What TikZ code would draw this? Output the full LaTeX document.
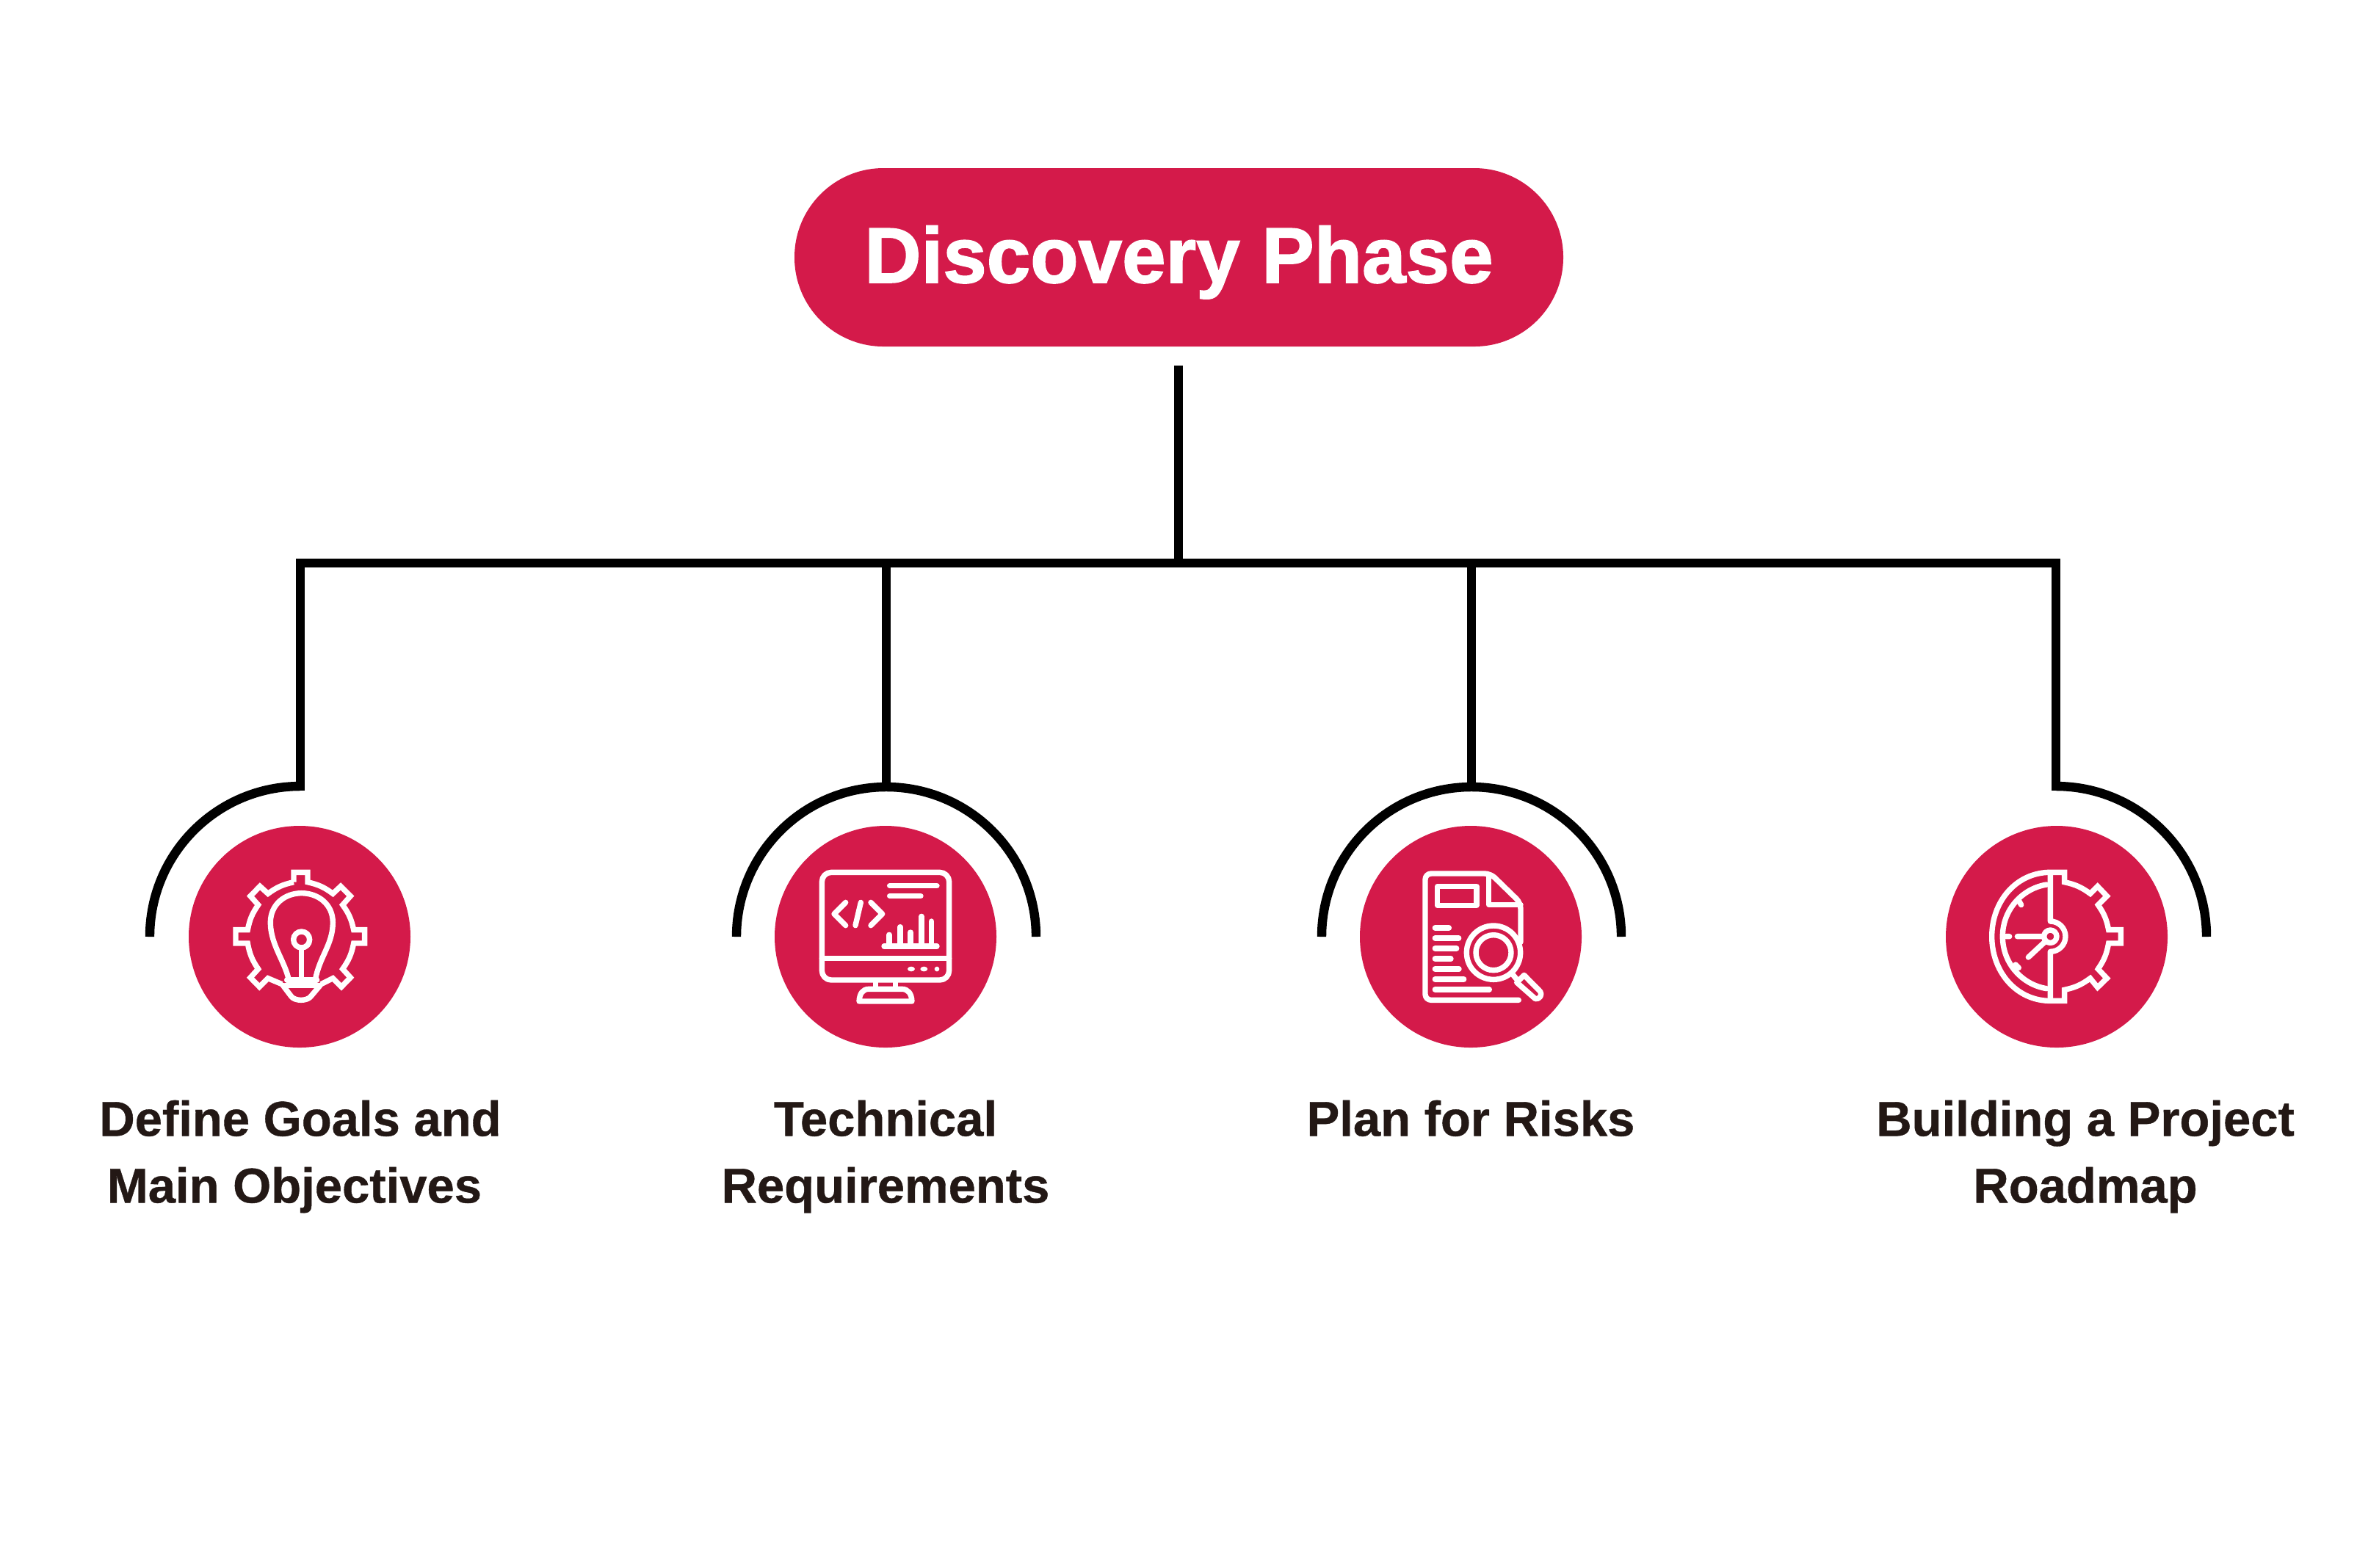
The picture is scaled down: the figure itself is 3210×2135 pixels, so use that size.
\documentclass[tikz,border=0pt]{standalone}
\usepackage{fontspec}
\newfontfamily\titlefont[FakeBold=1.6]{Liberation Sans Bold}
\newfontfamily\labfont[FakeBold=0.6]{Liberation Sans Bold}
\definecolor{brand}{HTML}{D41A4A}
\definecolor{inkdark}{HTML}{231815}
\tikzset{
  conn/.style={line width=2.9pt,black},
  arcline/.style={line width=3.1pt,black},
  disc/.style={circle,fill=brand,minimum size=75.5pt,inner sep=0pt},
  lab/.style={anchor=north,inner sep=0pt,align=center,text=inkdark,font=\labfont\fontsize{16.75}{22.75}\selectfont},
  ic/.style={line width=1.85pt,white,line join=round,line cap=round},
  icf/.style={line width=1.85pt,white,line join=miter,line cap=butt}
}
\begin{document}
\begin{tikzpicture}[x=0.25pt,y=-0.25pt]
\useasboundingbox (0,0) rectangle (3210,2135);
\fill[white] (0,0) rectangle (3210,2135);
% title
\node[fill=brand,rounded corners=30.3pt,minimum width=261.75pt,minimum height=60.75pt,inner sep=0pt,text=white,text height=20pt,text depth=2.8pt,font=\titlefont\fontsize{26.75}{30}\selectfont] (title) at (1605.5,350.5) {Discovery Phase};
% discs
\node[disc] (c1) at (408,1276) {};
\node[disc] (c2) at (1206,1276) {};
\node[disc] (c3) at (2003,1276) {};
\node[disc] (c4) at (2801,1276) {};
% connectors
\coordinate (stem) at (1605,498);
\coordinate (hub) at (1605,767);
\coordinate (t1) at (409,1076.5);
\coordinate (t2) at (1207,1072);
\coordinate (t3) at (2004,1072);
\coordinate (t4) at (2800,1076.5);
\draw[conn] (stem) -- (hub);
\draw[conn] (t1) -- (t1 |- hub) -- (t4 |- hub) -- (t4);
\draw[conn] (t2 |- hub) -- (t2);
\draw[conn] (t3 |- hub) -- (t3);
% arcs
\draw[arcline] (204,1276) arc[start angle=180,end angle=270,radius=205];
\draw[arcline] (1003,1276) arc[start angle=180,end angle=360,radius=204];
\draw[arcline] (1800,1276) arc[start angle=180,end angle=360,radius=204];
\draw[arcline] (2800,1071) arc[start angle=270,end angle=360,radius=205];
% labels
\node[lab] (l1) at (409,1498) {Define Goals and\\Main Objectives\kern4pt};
\node[lab] (l2) at (1206,1498) {Technical\\Requirements};
\node[lab] (l3) at (2003,1498) {Plan for Risks};
\node[lab] (l4) at (2840,1498) {Building a Project\\Roadmap};
% icon 1
\begin{scope}[shift={(240,1110)},x=0.08333pt,y=-0.08333pt]
\draw[icf] (480,275)--(480,235)--(537,235)--(537,275) to[bend left=12] (640,322)--(672,292)--(712,332)--(680,368) to[bend left=12] (725,470)--(770,470)--(770,525)--(725,525) to[bend left=12] (680,630)--(712,665)--(675,703)--(640,668)--(592,692);
\draw[icf] (432,692)--(375,668)--(340,703)--(303,665)--(335,630) to[bend left=12] (292,525)--(243,525)--(243,470)--(292,470) to[bend left=12] (335,368)--(303,332)--(342,292)--(375,322) to[bend left=12] (480,275);
\draw[ic] (460,675) .. controls (445,600) and (385,530) .. (385,440) .. controls (385,365) and (445,320) .. (512,320) .. controls (580,320) and (640,365) .. (640,440) .. controls (640,530) and (585,580) .. (568,675);
\draw[ic] (452,675)--(575,675);
\draw[ic] (445,697)--(582,697);
\draw[ic] (512,545)--(512,675);
\draw[ic] (512,510) circle[radius=33];
\draw[ic] (436,697)--(470,742) .. controls (485,762) and (535,762) .. (550,742)--(588,697);
\end{scope}
% icon 2
\begin{scope}[shift={(1040,1110)},x=0.08333pt,y=-0.08333pt]
\draw[ic,rounded corners=3.2pt] (238,235) rectangle (758,675);
\draw[ic] (238,587)--(758,587);
\draw[ic] (458,680)--(458,710) (538,680)--(538,710);
\draw[ic] (390,762) .. controls (392,730) and (405,712) .. (430,712) -- (565,712) .. controls (590,712) and (604,730) .. (606,762) -- cycle;
\draw[ic] (515,290)--(708,290) (515,332)--(642,332);
\draw[ic] (335,358)--(288,405)--(335,452) (397,358)--(375,452) (438,358)--(485,405)--(438,452);
\draw[ic] (492,537)--(708,537) (513,537)--(513,490) (558,537)--(558,458) (600,537)--(600,480) (645,537)--(645,415) (686,537)--(686,435);
\fill[white] (603,630) ellipse[x radius=15,y radius=10] (655,630) ellipse[x radius=15,y radius=10] (708,630) ellipse[x radius=10,y radius=10];
\end{scope}
% icon 3
\begin{scope}[shift={(1835,1110)},x=0.08333pt,y=-0.08333pt]
\draw[ic,rounded corners=2pt] (708,520)--(708,360)--(585,240)--(318,240)--(318,757)--(700,757);
\draw[ic] (578,245)--(578,367)--(708,367);
\draw[ic] (368,292) rectangle (528,370);
\draw[ic] (358,462)--(415,462) (358,504)--(455,504) (358,546)--(446,546) (358,588)--(423,588) (358,630)--(456,630) (358,672)--(476,672) (358,714)--(580,714);
\draw[ic] (597,563) circle[radius=110] (597,563) circle[radius=72];
\draw[ic] (672,648)--(690,670);
\draw[ic] (692,685)--(722,655)--(788,722) .. controls (798,735) and (785,755) .. (768,752) -- cycle;
\end{scope}
% icon 4
\begin{scope}[shift={(2630,1110)},x=0.08333pt,y=-0.08333pt]
\draw[ic] (487,245)--(487,435) arc[start angle=270,end angle=450,radius=62]--(487,750);
\draw[ic] (478,235) .. controls (345,240) and (248,355) .. (248,497) .. controls (248,640) and (345,755) .. (478,760);
\draw[ic] (472,285) .. controls (375,300) and (292,385) .. (292,497) .. controls (292,610) and (375,695) .. (472,710);
\draw[icf] (478,235)--(545,235)--(545,275) to[bend left=12] (650,322)--(680,292)--(718,332)--(682,368) to[bend left=12] (725,470)--(775,470)--(775,525)--(725,525) to[bend left=12] (682,630)--(718,668)--(680,705)--(650,668) to[bend left=12] (545,715)--(545,760)--(478,760);
\draw[ic] (487,497) circle[radius=26];
\draw[ic] (352,497)--(460,497) (397,582)--(468,516);
\draw[ic] (305,497)--(320,497) (358,350)--(368,368) (358,625)--(345,612);
\end{scope}
\end{tikzpicture}
\end{document}
